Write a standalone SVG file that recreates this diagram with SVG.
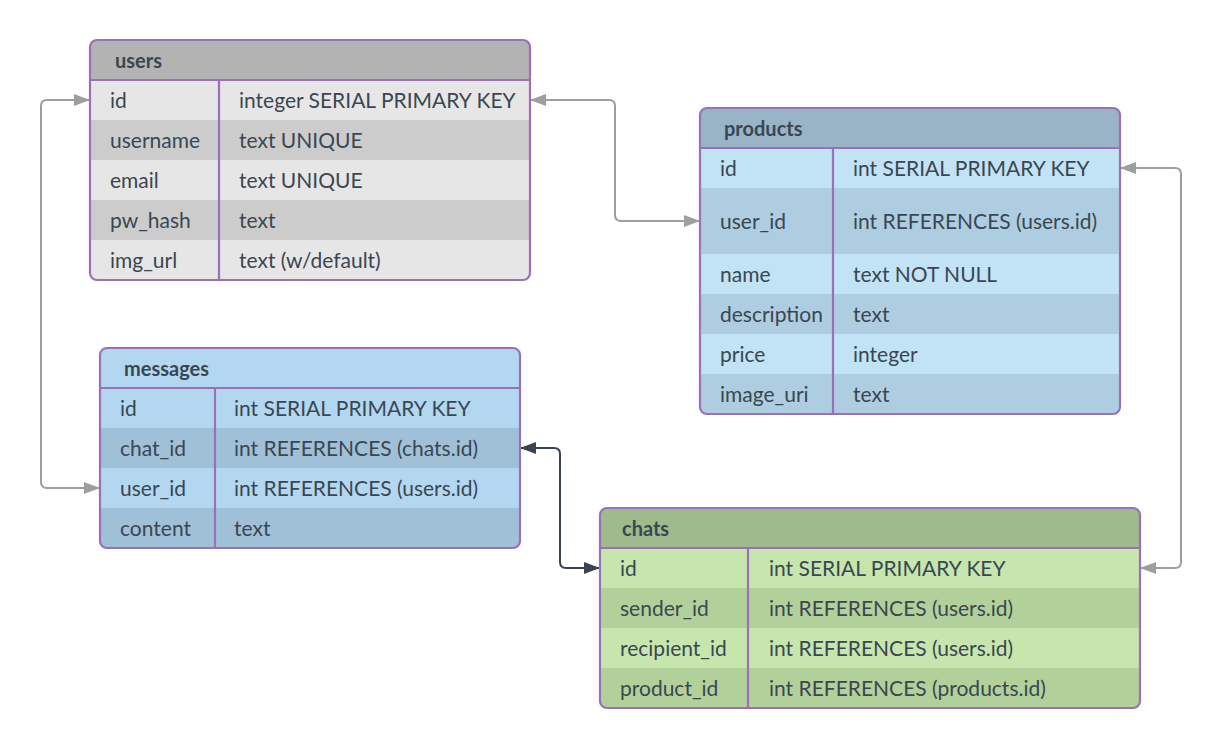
<svg xmlns="http://www.w3.org/2000/svg" width="1220" height="748" viewBox="0 0 1220 748">
<style>
text{font-family:Lato,"Open Sans","Liberation Sans",sans-serif;font-size:21px;fill:#3a4752}
.h{font-weight:bold;font-size:20px}
.frame{fill:none;stroke:#9c70b6;stroke-width:2.2}
.sep{stroke:#9c70b6;stroke-width:2.2}
.conn{fill:none;stroke:#9e9e9e;stroke-width:2}
.dark{stroke:#3a4450}
</style>
<defs>
<marker id="ag" viewBox="0 0 16 12" refX="16" refY="6" markerWidth="16" markerHeight="12" markerUnits="userSpaceOnUse" orient="auto-start-reverse"><path d="M0,0 L16,6 L0,12 z" fill="#9e9e9e"/></marker>
<marker id="ad" viewBox="0 0 16 12" refX="16" refY="6" markerWidth="16" markerHeight="12" markerUnits="userSpaceOnUse" orient="auto-start-reverse"><path d="M0,0 L16,6 L0,12 z" fill="#3a4450"/></marker>
<clipPath id="cu"><rect x="90" y="40" width="440" height="240" rx="7"/></clipPath>
<clipPath id="cp"><rect x="700" y="108" width="420" height="306" rx="7"/></clipPath>
<clipPath id="cm"><rect x="100" y="348" width="420" height="200" rx="7"/></clipPath>
<clipPath id="cc"><rect x="600" y="508" width="540" height="200" rx="7"/></clipPath>
</defs>
<g id="connectors">
<path class="conn" d="M530,100 H609 Q615,100 615,106 V215 Q615,221 621,221 H700" marker-start="url(#ag)" marker-end="url(#ag)"/>
<path class="conn" d="M90,100 H47 Q41,100 41,106 V482 Q41,488 47,488 H100" marker-start="url(#ag)" marker-end="url(#ag)"/>
<path class="conn dark" d="M520,448 H554 Q560,448 560,454 V562 Q560,568 566,568 H600" marker-start="url(#ad)" marker-end="url(#ad)"/>
<path class="conn" d="M1120,168 H1175 Q1181,168 1181,174 V562 Q1181,568 1175,568 H1140" marker-start="url(#ag)" marker-end="url(#ag)"/>
</g>
<g id="users">
<g clip-path="url(#cu)">
<rect x="90" y="40" width="440" height="40" fill="#b3b3b3"/>
<rect x="90" y="80" width="440" height="40" fill="#e6e6e6"/>
<rect x="90" y="120" width="440" height="40" fill="#cccccc"/>
<rect x="90" y="160" width="440" height="40" fill="#e6e6e6"/>
<rect x="90" y="200" width="440" height="40" fill="#cccccc"/>
<rect x="90" y="240" width="440" height="40" fill="#e6e6e6"/>
</g>
<line class="sep" x1="90" y1="80" x2="530" y2="80"/>
<line class="sep" x1="219" y1="80" x2="219" y2="280"/>
<rect class="frame" x="90" y="40" width="440" height="240" rx="7"/>
<text class="h" x="115" y="68">users</text>
<text x="110" y="108">id</text><text x="239" y="108">integer SERIAL PRIMARY KEY</text>
<text x="110" y="148">username</text><text x="239" y="148">text UNIQUE</text>
<text x="110" y="188">email</text><text x="239" y="188">text UNIQUE</text>
<text x="110" y="228">pw_hash</text><text x="239" y="228">text</text>
<text x="110" y="268">img_url</text><text x="239" y="268">text (w/default)</text>
</g>
<g id="products">
<g clip-path="url(#cp)">
<rect x="700" y="108" width="420" height="40" fill="#9ab4c7"/>
<rect x="700" y="148" width="420" height="40" fill="#c1e3f5"/>
<rect x="700" y="188" width="420" height="66" fill="#aecde0"/>
<rect x="700" y="254" width="420" height="40" fill="#c1e3f5"/>
<rect x="700" y="294" width="420" height="40" fill="#aecde0"/>
<rect x="700" y="334" width="420" height="40" fill="#c1e3f5"/>
<rect x="700" y="374" width="420" height="40" fill="#aecde0"/>
</g>
<line class="sep" x1="700" y1="148" x2="1120" y2="148"/>
<line class="sep" x1="833" y1="148" x2="833" y2="414"/>
<rect class="frame" x="700" y="108" width="420" height="306" rx="7"/>
<text class="h" x="724" y="136">products</text>
<text x="720" y="176">id</text><text x="853" y="176">int SERIAL PRIMARY KEY</text>
<text x="720" y="229">user_id</text><text x="853" y="229">int REFERENCES (users.id)</text>
<text x="720" y="282">name</text><text x="853" y="282">text NOT NULL</text>
<text x="720" y="322">description</text><text x="853" y="322">text</text>
<text x="720" y="362">price</text><text x="853" y="362">integer</text>
<text x="720" y="402">image_uri</text><text x="853" y="402">text</text>
</g>
<g id="messages">
<g clip-path="url(#cm)">
<rect x="100" y="348" width="420" height="40" fill="#b3d7f0"/>
<rect x="100" y="388" width="420" height="40" fill="#b3d7f0"/>
<rect x="100" y="428" width="420" height="40" fill="#a0c0d8"/>
<rect x="100" y="468" width="420" height="40" fill="#b3d7f0"/>
<rect x="100" y="508" width="420" height="40" fill="#a0c0d8"/>
</g>
<line class="sep" x1="100" y1="388" x2="520" y2="388"/>
<line class="sep" x1="215" y1="388" x2="215" y2="548"/>
<rect class="frame" x="100" y="348" width="420" height="200" rx="7"/>
<text class="h" x="124" y="376">messages</text>
<text x="120" y="416">id</text><text x="234" y="416">int SERIAL PRIMARY KEY</text>
<text x="120" y="456">chat_id</text><text x="234" y="456">int REFERENCES (chats.id)</text>
<text x="120" y="496">user_id</text><text x="234" y="496">int REFERENCES (users.id)</text>
<text x="120" y="536">content</text><text x="234" y="536">text</text>
</g>
<g id="chats">
<g clip-path="url(#cc)">
<rect x="600" y="508" width="540" height="40" fill="#9fba8c"/>
<rect x="600" y="548" width="540" height="40" fill="#c7e6ad"/>
<rect x="600" y="588" width="540" height="40" fill="#b2d19a"/>
<rect x="600" y="628" width="540" height="40" fill="#c7e6ad"/>
<rect x="600" y="668" width="540" height="40" fill="#b2d19a"/>
</g>
<line class="sep" x1="600" y1="548" x2="1140" y2="548"/>
<line class="sep" x1="748" y1="548" x2="748" y2="708"/>
<rect class="frame" x="600" y="508" width="540" height="200" rx="7"/>
<text class="h" x="622" y="536">chats</text>
<text x="620" y="576">id</text><text x="769" y="576">int SERIAL PRIMARY KEY</text>
<text x="620" y="616">sender_id</text><text x="769" y="616">int REFERENCES (users.id)</text>
<text x="620" y="656">recipient_id</text><text x="769" y="656">int REFERENCES (users.id)</text>
<text x="620" y="696">product_id</text><text x="769" y="696">int REFERENCES (products.id)</text>
</g>
</svg>
